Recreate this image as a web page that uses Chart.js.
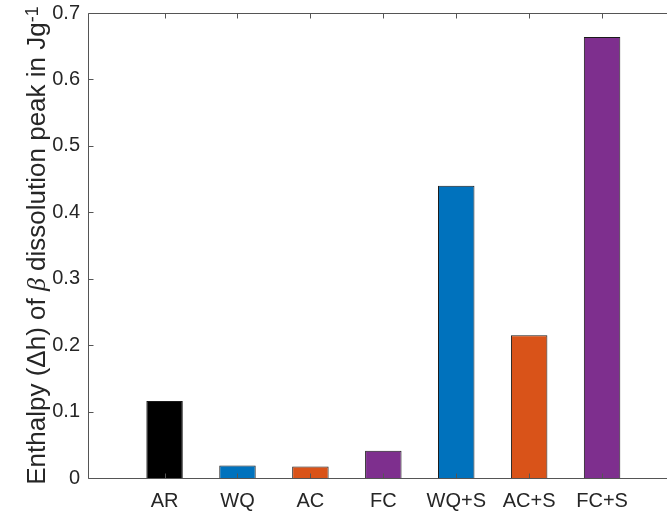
<!DOCTYPE html>
<html>
<head>
<meta charset="utf-8">
<script src="https://cdn.jsdelivr.net/npm/chart.js@4/dist/chart.umd.min.js"></script>
<style>
  html, body { margin: 0; padding: 0; background: #fff; overflow: hidden; }
  #wrap { width: 667px; height: 511px; overflow: hidden; }
</style>
</head>
<body>
<div id="wrap"><canvas id="c" width="683" height="511"></canvas></div>
<script>
// Sample groups and measured enthalpy of the beta dissolution peak (J/g)
const categories = ['AR', 'WQ', 'AC', 'FC', 'WQ+S', 'AC+S', 'FC+S'];
const enthalpy = [0.116, 0.019, 0.0175, 0.041, 0.440, 0.215, 0.664];
const barColors = ['#000000', '#0072BD', '#D95319', '#7E2F8E', '#0072BD', '#D95319', '#7E2F8E'];
const yTicks = [0, 0.1, 0.2, 0.3, 0.4, 0.5, 0.6, 0.7];

const TEXT = '#262626';
const AXIS = '#555555';
const FONT = 'Liberation Sans, Arial, sans-serif';

// Box outline with inward tick marks, drawn over the bars
const axesBox = {
  id: 'axesBox',
  afterDatasetsDraw(chart) {
    const { ctx, chartArea: a, scales } = chart;
    const L = Math.round(a.left) + 0.5, R = Math.round(a.right) + 0.5;
    const T = Math.round(a.top) + 0.5, B = Math.round(a.bottom) + 0.5;
    const tl = 5;
    ctx.save();
    ctx.strokeStyle = AXIS;
    ctx.lineWidth = 1;
    ctx.beginPath();
    ctx.rect(L, T, R - L, B - T);
    scales.y.ticks.forEach(t => {
      const y = Math.round(scales.y.getPixelForValue(t.value)) + 0.5;
      ctx.moveTo(L, y); ctx.lineTo(L + tl, y);
      ctx.moveTo(R, y); ctx.lineTo(R - tl, y);
    });
    scales.x.ticks.forEach(t => {
      const x = Math.round(scales.x.getPixelForValue(t.value)) + 0.5;
      ctx.moveTo(x, B); ctx.lineTo(x, B - tl);
      ctx.moveTo(x, T); ctx.lineTo(x, T + tl);
    });
    ctx.stroke();
    ctx.restore();
  }
};

// Rotated y-axis title with italic beta and superscript unit
const yTitle = {
  id: 'yTitle',
  afterDraw(chart) {
    const { ctx, chartArea: a } = chart;
    const parts = [
      { t: 'Enthalpy (\u0394h) of ', f: '26px ' + FONT, dy: 0 },
      { t: '\u03B2', f: 'italic 26px Liberation Serif, serif', dy: 0 },
      { t: ' dissolution peak in Jg', f: '26px ' + FONT, dy: 0 },
      { t: '-1', f: '18px ' + FONT, dy: -7 }
    ];
    ctx.save();
    let total = 0;
    parts.forEach(p => { ctx.font = p.f; p.w = ctx.measureText(p.t).width; total += p.w; });
    ctx.translate(45, (a.top + a.bottom) / 2);
    ctx.rotate(-Math.PI / 2);
    ctx.fillStyle = TEXT;
    ctx.textBaseline = 'alphabetic';
    ctx.textAlign = 'left';
    let x = -total / 2;
    parts.forEach(p => { ctx.font = p.f; ctx.fillText(p.t, x, p.dy); x += p.w; });
    ctx.restore();
  }
};

new Chart(document.getElementById('c'), {
  type: 'bar',
  data: {
    datasets: [{
      data: enthalpy.map((v, i) => ({ x: i + 1, y: v })),
      backgroundColor: barColors,
      borderColor: '#1a1a1a',
      borderWidth: 1,
      barPercentage: 0.5,
      categoryPercentage: 1
    }]
  },
  options: {
    responsive: false,
    animation: false,
    layout: { padding: { top: 13, right: 8, left: 0, bottom: 0 } },
    plugins: { legend: { display: false }, tooltip: { enabled: false } },
    scales: {
      x: {
        type: 'linear',
        offset: false,
        min: -0.05,
        max: categories.length + 1,
        afterBuildTicks: s => { s.ticks = categories.map((c, i) => ({ value: i + 1 })); },
        afterFit: s => { s.height = 33; s.paddingLeft = 0; s.paddingRight = 0; },
        grid: { display: false, drawTicks: false, offset: false },
        border: { display: false },
        ticks: {
          autoSkip: false,
          maxRotation: 0,
          padding: 11,
          color: TEXT,
          font: { family: FONT, size: 20 },
          callback: v => categories[v - 1]
        }
      },
      y: {
        min: 0,
        max: 0.7,
        afterBuildTicks: s => { s.ticks = yTicks.map(v => ({ value: v })); },
        afterFit: s => { s.width = 88; s.paddingTop = 0; s.paddingBottom = 0; },
        grid: { display: false, drawTicks: false },
        border: { display: false },
        ticks: {
          padding: 8,
          color: TEXT,
          font: { family: FONT, size: 20 },
          callback: v => (v === 0 ? '0' : Number(v).toFixed(1))
        }
      }
    }
  },
  plugins: [axesBox, yTitle]
});
</script>
</body>
</html>
